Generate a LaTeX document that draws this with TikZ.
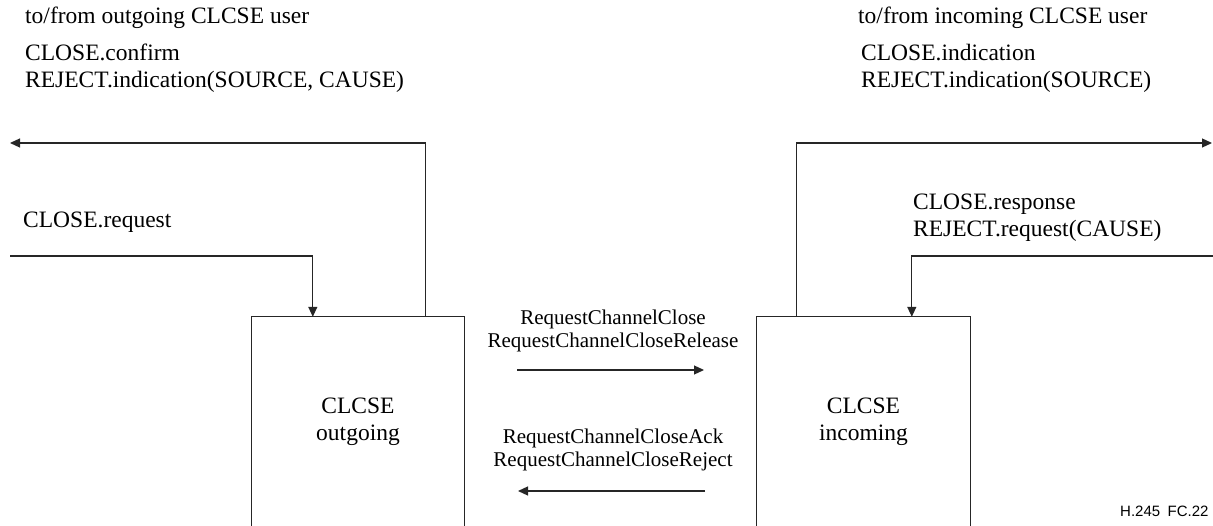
\documentclass[tikz,border=0pt]{standalone}
\usepackage{fontspec}
\setmainfont{Liberation Serif}
\newfontfamily\labsans{Liberation Sans}
\usetikzlibrary{arrows.meta}
\begin{document}
\begin{tikzpicture}[x=1pt,y=-1pt,
  line/.style={line width=1.2pt, draw=black!85},
  arr/.style={line, -{Triangle[length=10pt,width=9pt]}},
  big/.style={font=\fontsize{23.5}{27}\selectfont, inner sep=0pt, anchor=base west},
  mid/.style={font=\fontsize{21}{23.5}\selectfont, inner sep=0pt, anchor=base},
  box/.style={minimum width=212pt, minimum height=210pt, inner sep=0pt, font=\fontsize{23.5}{27}\selectfont}]
\useasboundingbox (0,0) rectangle (1213,526);

% boxes (open at the bottom)
\node[box] (out) at (358,422) {\begin{tabular}{@{}c@{}}CLCSE\\outgoing\end{tabular}};
\node[box, minimum width=213pt] (inc) at (863.5,422) {\begin{tabular}{@{}c@{}}CLCSE\\incoming\end{tabular}};
\draw[line] (out.south west) -- (out.north west) -- (out.north east) -- (out.south east);
\draw[line] (inc.south west) -- (inc.north west) -- (inc.north east) -- (inc.south east);

% free ends
\coordinate (cnfEnd) at (10,143);
\coordinate (reqStart) at (10,256);
\coordinate (indEnd) at (1212,143);
\coordinate (rspStart) at (1213,256);
\coordinate (fwdS) at (517,370);
\coordinate (fwdE) at (704,370);
\coordinate (bwdS) at (705,491);
\coordinate (bwdE) at (518,491);

% connectors
\draw[arr] ([xshift=174pt]out.north west) |- (cnfEnd);
\draw[arr] (reqStart) -| ([xshift=61pt]out.north west);
\draw[arr] ([xshift=40pt]inc.north west) |- (indEnd);
\draw[arr] (rspStart) -| ([xshift=155pt]inc.north west);
\draw[arr] (fwdS) -- (fwdE);
\draw[arr] (bwdS) -- (bwdE);

% labels
\node[big] (hdrOut) at (25,24) {to/from outgoing CLCSE user};
\node[big] (cnf1) at (25,61) {CLOSE.confirm};
\node[big] (cnf2) at (25,88) {REJECT.indication(SOURCE, CAUSE)};
\node[big] (req) at (23,228) {CLOSE.request};
\node[big] (hdrInc) at (858,24) {to/from incoming CLCSE user};
\node[big] (ind1) at (861,61) {CLOSE.indication};
\node[big] (ind2) at (861,88) {REJECT.indication(SOURCE)};
\node[big] (rsp1) at (913,210) {CLOSE.response};
\node[big] (rsp2) at (913,237) {REJECT.request(CAUSE)};
\node[mid] (m1) at (613,325) {RequestChannelClose};
\node[mid] (m2) at (613,348) {RequestChannelCloseRelease};
\node[mid] (m3) at (613,443) {RequestChannelCloseAck};
\node[mid] (m4) at (613,466) {RequestChannelCloseReject};
\node[font=\labsans\fontsize{15}{18}\selectfont, inner sep=0pt, anchor=base west] (fig) at (1120,516) {H.245\hspace{0.5em}FC.22};
\end{tikzpicture}
\end{document}
